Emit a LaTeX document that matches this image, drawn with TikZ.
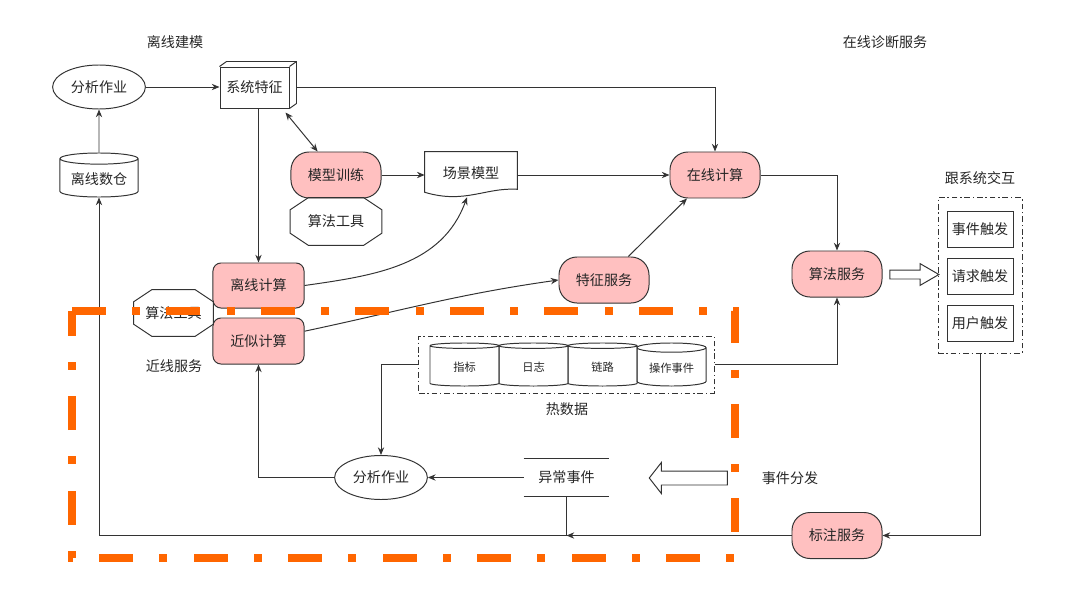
\documentclass[tikz,border=0pt]{standalone}
\usepackage{fontspec}
\setmainfont{Noto Sans CJK SC}
\usetikzlibrary{shapes.geometric,shapes.arrows,arrows.meta,calc}

\definecolor{boxpink}{RGB}{255,192,192}
\definecolor{frameorange}{RGB}{255,102,0}
\definecolor{linegray}{RGB}{51,51,51}

\tikzset{
  every node/.style={font=\fontsize{10}{12}\selectfont, text=black!85},
  >={Stealth[length=5.5pt,width=4.5pt]},
  line/.style={draw=linegray, line width=0.7pt, ->},
  proc/.style={draw=linegray, line width=0.7pt, fill=boxpink, rounded corners=0.45cm, minimum width=2.25cm, minimum height=1.15cm},
  calcbox/.style={draw=linegray, line width=0.7pt, fill=boxpink, rounded corners=0.2cm, minimum width=2.275cm, minimum height=1.125cm},
  job/.style={draw=linegray, line width=0.7pt, ellipse, minimum width=2.3cm, minimum height=1.1cm},
  store/.style={draw=linegray, line width=0.7pt, cylinder, shape border rotate=90, aspect=0.17, anchor=shape center},
  trig/.style={draw=linegray, line width=0.7pt, minimum width=1.65cm, minimum height=0.9cm},
  dashframe/.style={draw=linegray, line width=0.7pt, dash pattern=on 4pt off 2pt on 1pt off 2pt},
  hollow/.style={draw=linegray, line width=0.7pt, single arrow, inner xsep=0pt, single arrow head indent=0pt}
}

\newcommand\drawoct[1]{%
  \draw[linegray, line width=0.7pt] ($(#1.north west)+(0.45cm,0)$) -- ($(#1.north east)+(-0.45cm,0)$)
    -- ($(#1.north east)+(0,-0.3cm)$) -- ($(#1.south east)+(0,0.3cm)$)
    -- ($(#1.south east)+(-0.45cm,0)$) -- ($(#1.south west)+(0.45cm,0)$)
    -- ($(#1.south west)+(0,0.3cm)$) -- ($(#1.north west)+(0,-0.3cm)$) -- cycle;}

\begin{document}
\begin{tikzpicture}[x=0.025cm,y=-0.025cm]
\useasboundingbox (0,0) rectangle (1080,592);

\node (offtitle) at (175,42) {离线建模};
\node (ontitle) at (885,42) {在线诊断服务};

\node[job] (ana1) at (99,87) {分析作业};
\node[draw=linegray, line width=0.7pt, minimum width=1.725cm, minimum height=1.025cm] (sysf) at (254.5,87.5) {系统特征};
\draw[linegray, line width=0.7pt] (sysf.north west) -- ++(0.175cm,0.125cm) -| ([shift={(0.175cm,0.125cm)}]sysf.south east) -- (sysf.south east)
  (sysf.north east) -- ++(0.175cm,0.125cm);
\node[store, minimum width=1.95cm, minimum height=1.1cm] (dw) at (99,175) {离线数仓};

\node[proc] (train) at (336,175) {模型训练};
\node[minimum width=2.275cm, minimum height=1.175cm] (tool1) at (336,221.5) {算法工具};
\drawoct{tool1}
\node[minimum width=2.3cm, minimum height=1.075cm] (scene) at (471,173.5) {场景模型};
\draw[linegray, line width=0.7pt] (scene.north west) -- (scene.north east) -- ([yshift=0.15cm]scene.south east)
  .. controls +(-0.8cm,0.05cm) and +(1cm,-0.3cm) .. ([yshift=0.075cm]scene.south west) -- cycle;
\node[proc] (online) at (715,175) {在线计算};
\node[proc] (feat) at (604,280) {特征服务};
\node[proc] (algo) at (837,274) {算法服务};
\node[calcbox] (off) at (258.5,285.5) {离线计算};
\node[calcbox, minimum height=1.15cm] (approx) at (258.5,341) {近似计算};
\node[minimum width=1.975cm, minimum height=1.15cm] (tool2) at (173.5,313) {算法工具};
\drawoct{tool2}
\node (near) at (174,366) {近线服务};

% hot data
\node[dashframe, minimum width=7.375cm, minimum height=1.425cm] (hot) at (566.5,364.5) {};
\foreach \i/\x/\t in {1/464.5/指标, 2/533.5/日志, 3/602.5/链路, 4/671.5/操作事件}
  \node[store, minimum width=1.725cm, minimum height=1.075cm, font=\fontsize{8}{10}\selectfont] (c\i) at (\x,364.5) {\t};
\node (hotlabel) at (567,409) {热数据};

\node[job] (ana2) at (381,477.5) {分析作业};
\node[minimum width=2.125cm, minimum height=0.925cm] (abn) at (566.5,477.5) {异常事件};
\draw[linegray, line width=0.7pt] (abn.north west) -- (abn.north east) (abn.south west) -- (abn.south east);
\node[hollow, shape border rotate=180, inner ysep=0.1625cm, minimum height=1.95cm, single arrow head extend=0.2125cm, single arrow tip angle=104] (dispatch) at (691,478) {};
\node (dislabel) at (790,478) {事件分发};
\node[proc] (mark) at (837,535.5) {标注服务};

\node (systitle) at (980,178) {跟系统交互};
\node[dashframe, minimum width=2.1cm, minimum height=3.875cm] (sysbox) at (980,275.5) {};
\node[trig] (t1) at (980,229) {事件触发};
\node[trig] (t2) at (980,276) {请求触发};
\node[trig] (t3) at (980,323.5) {用户触发};
\node[hollow, inner ysep=0.1cm, minimum height=1.225cm, single arrow head extend=0.16cm, single arrow tip angle=60] (push) at (910.5,274.5) {};

% connectors
\draw[line] (dw) -- (ana1);
\draw[line] (ana1) -- (ana1 -| sysf.west);
\draw[line] ([xshift=0.175cm]sysf.east) -| (online.north);
\draw[line,<->] ([shift={(-0.1cm,-0.1cm)}]sysf.south east) -- (train.128);
\draw[line] (off.north |- sysf.south) -- (off);
\draw[line] (train.east) -- (train.east -| scene.west);
\draw[line] (scene.east |- online) -- (online);
\draw[line] (online) -| (algo);
\draw[line] (feat.44) -- (online.-140);
\draw[line] (off.east) to[out=8,in=-110] ([shift={(-0.1cm,-0.05cm)}]scene.south);
\draw[line] (approx.12) to[out=12,in=188] (feat.west);
\draw[line] (hot.west) -| (ana2);
\draw[line] (hot.east) -| (algo);
\draw[line] (ana2) -| (approx);
\draw[line] (abn) -- (ana2);
\coordinate (jn) at (abn.south |- mark.west);
\draw[line] (mark) -- (jn);
\draw[line] (abn.south) -- (jn) -| (dw);
\draw[line] (sysbox) |- (mark);

\draw[frameorange, line width=5.7pt, dash pattern=on 24pt off 19pt on 5.7pt off 18.5pt]
  (72,311) -- (735,311) -- (735,558) -- (72,558) -- cycle;
\end{tikzpicture}
\end{document}
